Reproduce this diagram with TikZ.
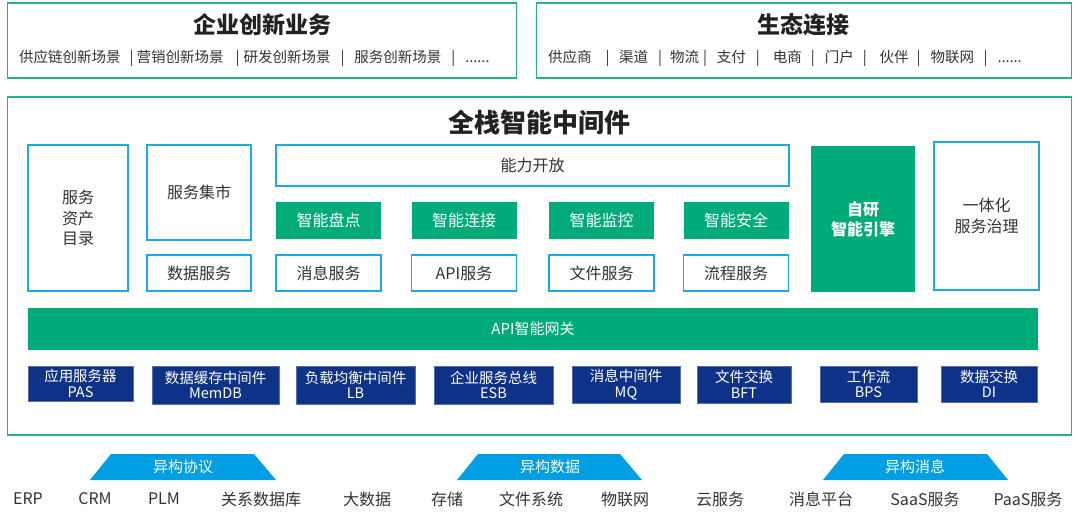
\documentclass[tikz,border=0pt]{standalone}
\usepackage{fontspec}
\setmainfont{Noto Sans CJK SC}
\usetikzlibrary{positioning}
\definecolor{ink}{HTML}{333333}
\definecolor{titleink}{HTML}{222222}
\definecolor{framegreen}{HTML}{22B38A}
\definecolor{fillgreen}{HTML}{00AB7A}
\definecolor{lineblue}{HTML}{1CA9EC}
\definecolor{navy}{HTML}{0D3288}
\definecolor{trapblue}{HTML}{009FE3}

\begin{document}
\begin{tikzpicture}[
  x=1pt,y=-1pt,
  text=ink,
  frame/.style={draw=framegreen,line width=1.6pt,fill=white,inner sep=0pt},
  bluebox/.style={draw=lineblue,line width=1.6pt,fill=white,inner sep=0pt,align=center,font=\fontsize{16}{20.5}\selectfont},
  greenbox/.style={fill=fillgreen,text=white,inner sep=0pt,align=center,font=\fontsize{16}{20}\selectfont},
  navybox/.style={fill=navy,draw=navy!70!white,line width=0.6pt,text=white,inner sep=0pt,align=center,font=\fontsize{14.5}{15.5}\selectfont},
  bigtitle/.style={text=titleink,font=\fontsize{23}{26}\selectfont\bfseries},
  subline/.style={inner sep=0pt,anchor=west,font=\fontsize{14.5}{16}\selectfont},
  trap/.style={fill=trapblue},
  traplabel/.style={text=white,inner sep=0pt,font=\fontsize{15}{17}\selectfont},
  source/.style={inner sep=0pt,font=\fontsize{16}{18}\selectfont}
]
\useasboundingbox (0,0) rectangle (1080,520);

% top: business and ecosystem
\node[frame,minimum width=509pt,minimum height=75pt] (biz) at (262,40.5) {};
\node[bigtitle] (biztitle) at (262,25) {企业创新业务};
\node[subline] (bizline) at (19,58) {供应链创新场景\hspace{9pt}|\hspace{3pt}营销创新场景\hspace{12pt}|\hspace{4pt}研发创新场景\hspace{10pt}|\hspace{10pt}服务创新场景\hspace{10pt}|\hspace{10pt}......};
\node[frame,minimum width=535pt,minimum height=75pt] (eco) at (804,40.5) {};
\node[bigtitle] (ecotitle) at (803,25) {生态连接};
\node[subline] (ecoline) at (548,58) {供应商\hspace{14pt}|\hspace{9.5pt}渠道\hspace{10pt}|\hspace{8pt}物流\hspace{4pt}|\hspace{10pt}支付\hspace{10pt}|\hspace{13pt}电商\hspace{9pt}|\hspace{10pt}门户\hspace{9pt}|\hspace{13pt}伙伴\hspace{8pt}|\hspace{10pt}物联网\hspace{9.5pt}|\hspace{10pt}......};

% middleware frame
\node[frame,minimum width=1064pt,minimum height=338pt] (mw) at (539.5,266) {};
\node[text=titleink,font=\fontsize{26}{30}\selectfont\bfseries] (mwtitle) at (539,123) {全栈智能中间件};

% left column
\node[bluebox,minimum width=100pt,minimum height=146pt] (catalog) at (78,218) {服务\\资产\\目录};
\node[bluebox,minimum width=104pt,minimum height=95pt] (market) at (199,192.5) {服务集市};
\node[bluebox,minimum width=104pt,minimum height=36pt] (datasvc) at (199,273) {数据服务};

% capability opening
\node[bluebox,minimum width=513pt,minimum height=41pt] (open) at (532.5,165.5) {能力开放};
\node[greenbox,minimum width=105pt,minimum height=37pt] (stock) at (328.5,220.5) {智能盘点};
\node[greenbox,minimum width=105pt,minimum height=37pt] (link) at (464,220.5) {智能连接};
\node[greenbox,minimum width=105pt,minimum height=37pt] (watch) at (601.5,220.5) {智能监控};
\node[greenbox,minimum width=105pt,minimum height=37pt] (secure) at (736,220.5) {智能安全};
\node[bluebox,minimum width=105pt,minimum height=36pt] (msgsvc) at (328.5,273) {消息服务};
\node[bluebox,minimum width=105pt,minimum height=36pt] (apisvc) at (464,273) {API服务};
\node[bluebox,minimum width=105pt,minimum height=36pt] (filesvc) at (601.5,273) {文件服务};
\node[bluebox,minimum width=105pt,minimum height=36pt] (flowsvc) at (736,273) {流程服务};

% right column
\node[greenbox,minimum width=104pt,minimum height=146pt,font=\fontsize{16}{20}\selectfont\bfseries] (engine) at (863,219) {自研\\智能引擎};
\node[bluebox,minimum width=105pt,minimum height=148pt] (govern) at (986.5,216) {一体化\\服务治理};

% gateway
\node[greenbox,minimum width=1010pt,minimum height=42pt,font=\fontsize{15}{18}\selectfont] (gateway) at (533,329) {API智能网关};

% base middleware products
\node[navybox,minimum width=105pt,minimum height=35pt] (pas) at (80.5,383.5) {应用服务器\\PAS};
\node[navybox,minimum width=127pt,minimum height=38pt] (memdb) at (215.5,385) {数据缓存中间件\\MemDB};
\node[navybox,minimum width=119pt,minimum height=38pt] (lb) at (355.5,385) {负载均衡中间件\\LB};
\node[navybox,minimum width=119pt,minimum height=38pt] (esb) at (493.5,385) {企业服务总线\\ESB};
\node[navybox,minimum width=108pt,minimum height=37pt] (mq) at (626,384.5) {消息中间件\\MQ};
\node[navybox,minimum width=94pt,minimum height=37pt] (bft) at (744,384.5) {文件交换\\BFT};
\node[navybox,minimum width=97pt,minimum height=36pt] (bps) at (868.5,384) {工作流\\BPS};
\node[navybox,minimum width=96pt,minimum height=36pt] (di) at (989,384) {数据交换\\DI};

% heterogeneous sources
\fill[trap] (90,480) -- (111,454) -- (254,454) -- (276,480) -- cycle;
\node[traplabel] (proto) at (183,467) {异构协议};
\fill[trap] (457,480) -- (478,454) -- (620,454) -- (642,480) -- cycle;
\node[traplabel] (hdata) at (550,467) {异构数据};
\fill[trap] (823,480) -- (844,454) -- (987,454) -- (1008,480) -- cycle;
\node[traplabel] (hmsg) at (915,467) {异构消息};

\node[source] (erp) at (28,499) {ERP};
\node[source] (crm) at (95,499) {CRM};
\node[source] (plm) at (164,499) {PLM};
\node[source] (rdb) at (261,499) {关系数据库};
\node[source] (bigdata) at (367,499) {大数据};
\node[source] (storage) at (447,499) {存储};
\node[source] (fs) at (531,499) {文件系统};
\node[source] (iot) at (625,499) {物联网};
\node[source] (cloud) at (720,499) {云服务};
\node[source] (msgp) at (821,499) {消息平台};
\node[source] (saas) at (925,499) {SaaS服务};
\node[source] (paas) at (1028,499) {PaaS服务};
\end{tikzpicture}
\end{document}
